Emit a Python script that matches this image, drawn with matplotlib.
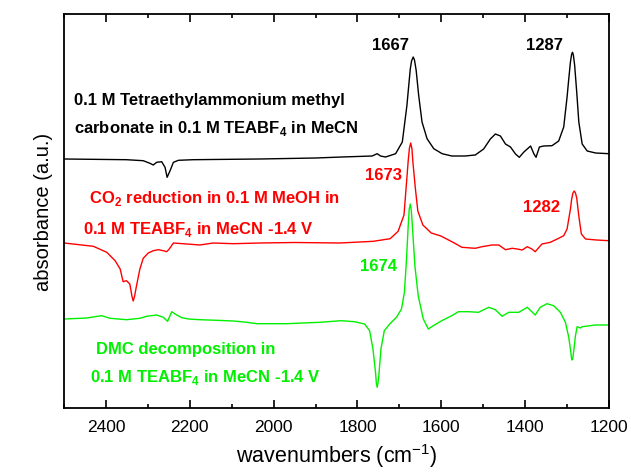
import numpy as np
import matplotlib
matplotlib.use("Agg")
import matplotlib.pyplot as plt
from matplotlib.ticker import MultipleLocator

plt.rcParams['font.family'] = ['Liberation Sans', 'DejaVu Sans']
plt.rcParams['mathtext.fontset'] = 'custom'
plt.rcParams['mathtext.rm'] = 'Liberation Sans'
plt.rcParams['mathtext.bf'] = 'Liberation Sans:bold'

# spectra (wavenumber in cm-1, absorbance in mOD relative to own baseline)
wn_black = [2500, 2351, 2311, 2295, 2287, 2279, 2267, 2259, 2254, 2247, 2239, 2227, 2192, 2033,
            1900, 1837, 1765, 1753, 1745, 1733, 1709, 1693, 1682, 1678, 1674, 1671, 1667, 1664,
            1660, 1654, 1646, 1634, 1618, 1598, 1575, 1543, 1527, 1519, 1499, 1483, 1471, 1459,
            1447, 1435, 1423, 1414, 1403, 1387, 1379, 1374, 1366, 1356, 1336, 1320, 1308, 1300,
            1296, 1292, 1289, 1287, 1285, 1282, 1277, 1272, 1264, 1252, 1232, 1200]
abs_black = [-2, -2.7, -3.7, -6.3, -8, -5.3, -4.7, -10.3, -20.3, -13.7, -5.3, -3.3, -2.7, -2,
             -1, 0, 1, 3.3, 1, 0, 3.3, 15, 51.7, 70, 88, 96, 100, 97,
             86.7, 61.7, 35, 18.3, 8.3, 3.3, 1, 1, 1.7, 2, 8, 18, 23, 21,
             13, 10, 3, -0.3, 5, 11, 3, -0.3, 10, 11, 11.3, 16, 30, 60,
             78, 95, 103, 104.7, 102, 92, 65, 35, 13, 6, 4, 3.3]

wn_red = [2500, 2430, 2398, 2378, 2366, 2359, 2351, 2343, 2338, 2335, 2332, 2327, 2319, 2311,
          2299, 2287, 2275, 2263, 2255, 2249, 2239, 2207, 2176, 2144, 2096, 2033, 1950, 1842,
          1762, 1722, 1703, 1689, 1684, 1679, 1676, 1673, 1670, 1668, 1662, 1656, 1644, 1624,
          1601, 1569, 1551, 1519, 1503, 1479, 1463, 1447, 1431, 1419, 1407, 1395, 1384, 1376,
          1360, 1340, 1320, 1308, 1300, 1292, 1289, 1286, 1283, 1280, 1277, 1272, 1266, 1256,
          1230, 1200]
abs_red = [0, -3.3, -9.3, -17.7, -26, -38.7, -37.7, -41, -53, -58, -54, -42.7, -26, -15.3,
           -10, -7.7, -6.7, -7.7, -8.7, -6, 0, -1, -2, 0, -0.7, 0, 0.5, 0,
           1.7, 4.3, 11.7, 28, 55, 82, 95, 100, 94, 82, 55, 32, 18, 10,
           7, 0, -4.3, -5.3, -3.7, -2, -2, -6.7, -5.3, -6, -7, -3.7, -6, -8.7,
           -1, 0.7, 4.7, 7.3, 14, 34, 44, 50, 52, 50, 45, 27, 9, 4,
           3, 2.3]

wn_green = [2498, 2446, 2410, 2390, 2351, 2319, 2303, 2279, 2263, 2253, 2243, 2231, 2219, 2203,
            2176, 2136, 2096, 2064, 2040, 1969, 1889, 1839, 1807, 1783, 1771, 1763, 1757, 1755,
            1753, 1751, 1749, 1744, 1736, 1723, 1707, 1695, 1688, 1683, 1679, 1676.5, 1674, 1671.5,
            1669, 1663, 1655, 1643, 1631, 1619, 1599, 1575, 1559, 1535, 1511, 1487, 1471, 1455,
            1439, 1415, 1395, 1384, 1376, 1364, 1348, 1332, 1316, 1304, 1296, 1291, 1289.5, 1288,
            1286, 1284, 1280, 1276, 1268, 1264, 1232, 1200]
abs_green = [0, 1, 3.3, 0.7, -0.7, 0.7, 2.7, 4, 1.7, -2.3, 7.3, 4, 1.3, 0,
             -0.7, -1.3, -2, -3.3, -4.7, -4.7, -3.3, -1.7, -2.7, -5, -11.7, -30, -53, -64,
             -68.3, -64, -56.7, -30, -11.7, -5, 1.7, 10, 26.7, 60, 93, 110, 115, 108,
             93, 53, 23, 0, -10, -6.7, -1.7, 3.3, 7.3, 7.3, 6.7, 11.7, 9.3, 2.7,
             6.7, 6.7, 11.7, 7.3, 4, 11.7, 15.3, 13.3, 6.7, -3.3, -18.3, -33.3, -39, -41,
             -38, -31.7, -16.7, -7.7, -9, -7.7, -6, -6]

peak_black = [1667, 1287]
peak_red = [1673, 1282]
peak_green = [1674]

# vertical offsets of the stacked spectra (mOD)
OFFSETS = [251, 165, 89]
GREEN = '#00f000'

fig = plt.figure(figsize=(6.31, 4.77), dpi=100)
ax = fig.add_axes([64 / 631, 1 - 409 / 477, 545 / 631, 394 / 477])

for wn, ab, off, col in [(wn_black, abs_black, OFFSETS[0], 'black'),
                         (wn_red, abs_red, OFFSETS[1], 'red'),
                         (wn_green, abs_green, OFFSETS[2], GREEN)]:
    ax.plot(wn, np.array(ab) + off, color=col, lw=1.0)

ax.set_xlim(2500, 1200)
ax.set_ylim(0, 394)
ax.xaxis.set_major_locator(MultipleLocator(200))
ax.xaxis.set_minor_locator(MultipleLocator(100))
ax.tick_params(axis='x', which='both', direction='in', top=True, labelsize=12.5, width=1.2)
ax.tick_params(axis='x', which='major', length=6, pad=8)
ax.tick_params(axis='x', which='minor', length=3)
ax.set_yticks([])
for s in ax.spines.values():
    s.set_linewidth(1.3)

ax.set_xlabel('wavenumbers (cm$^{\\mathrm{-1}}$)', fontsize=15.5, labelpad=5)
ax.set_ylabel('absorbance (a.u.)', fontsize=14.5, labelpad=8)

fs = 12
kw = dict(fontsize=fs, fontweight='bold', ha='left', va='center')
ax.text(2476, 308, '0.1 M Tetraethylammonium methyl', color='black', **kw)
ax.text(2476, 281, 'carbonate in 0.1 M TEABF$_\\mathbf{4}$ in MeCN', color='black', **kw)
ax.text(2440, 210, 'CO$_\\mathbf{2}$ reduction in 0.1 M MeOH in', color='red', **kw)
ax.text(2455, 179, '0.1 M TEABF$_\\mathbf{4}$ in MeCN -1.4 V', color='red', **kw)
ax.text(2424, 59, 'DMC decomposition in', color=GREEN, **kw)
ax.text(2438, 31, '0.1 M TEABF$_\\mathbf{4}$ in MeCN -1.4 V', color=GREEN, **kw)

pk = dict(fontsize=fs, fontweight='bold', ha='center', va='center')
ax.text(1722, 363, str(peak_black[0]), color='black', **pk)
ax.text(1353, 363, str(peak_black[1]), color='black', **pk)
ax.text(1739, 234, str(peak_red[0]), color='red', **pk)
ax.text(1360, 202, str(peak_red[1]), color='red', **pk)
ax.text(1751, 142, str(peak_green[0]), color=GREEN, **pk)

fig.savefig('out.png', dpi=100)
